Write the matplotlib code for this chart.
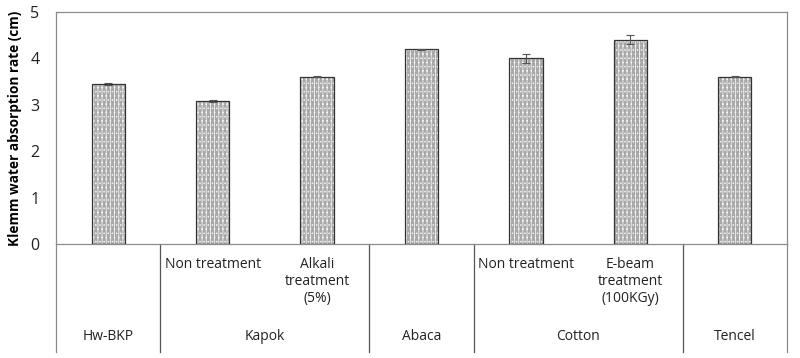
import matplotlib
matplotlib.use("Agg")
import matplotlib.pyplot as plt
import matplotlib.transforms as mtransforms

plt.rcParams['font.family'] = ['Open Sans', 'DejaVu Sans']
plt.rcParams['hatch.linewidth'] = 0.6

# Data
groups = ["Hw-BKP", "Kapok", "Abaca", "Cotton", "Tencel"]
group_sizes = [1, 2, 1, 2, 1]
sub_labels = ["", "Non treatment", "Alkali\ntreatment\n(5%)", "", "Non treatment",
              "E-beam\ntreatment\n(100KGy)", ""]
values = [3.45, 3.08, 3.60, 4.20, 4.00, 4.40, 3.60]
errors = [0.03, 0.02, 0.01, 0.01, 0.10, 0.10, 0.01]
yticks = [0, 1, 2, 3, 4, 5]

W, H = 800, 358
fig = plt.figure(figsize=(W / 100, H / 100), dpi=100)
left, right, top, bottom = 56, 787, 12, 244
ax = fig.add_axes([left / W, 1 - bottom / H, (right - left) / W, (bottom - top) / H])

n = len(values)
x = list(range(n))
# hatched bars: gray fill with light dotted hatch, then dark outline
ax.bar(x, values, width=0.32, color='#a8a8a8', edgecolor='#f2f2f2', hatch='||||....', linewidth=0, zorder=2)
ax.bar(x, values, width=0.32, fill=False, edgecolor='#333333', linewidth=0.9, zorder=3)
ax.errorbar(x, values, yerr=errors, fmt='none', ecolor='#555555', elinewidth=0.8, capsize=3, capthick=0.8, zorder=4)

ax.set_xlim(-0.5, n - 0.5)
ax.set_ylim(0, 5)
ax.set_yticks(yticks)
ax.set_xticks([])
ax.tick_params(axis='y', length=0, pad=12, labelsize=11.5, colors='#222222')
for s in ax.spines.values():
    s.set_color('#8c8c8c')
    s.set_linewidth(0.9)
ax.set_ylabel("Klemm water absorption rate (cm)", fontsize=9.8, fontweight='bold', labelpad=6)

# Multi-level category axis
trans = mtransforms.blended_transform_factory(ax.transData, ax.transAxes)
ah = bottom - top
def ypos(py):
    return -(py - bottom) / ah

line_bottom = ypos(352)
pos = 0
bounds = [-0.5]
for g, size in zip(groups, group_sizes):
    center = pos + (size - 1) / 2
    ax.text(center, ypos(337), g, transform=trans, ha='center', va='center', fontsize=10, color='#222222')
    pos += size
    bounds.append(pos - 0.5)
for b in bounds:
    ax.plot([b, b], [0, line_bottom], transform=trans, color='#555555' if b not in (-0.5, n - 0.5) else '#8c8c8c',
            linewidth=0.9, clip_on=False)
for i, lab in enumerate(sub_labels):
    if lab:
        ax.text(i, ypos(257), lab, transform=trans, ha='center', va='top', fontsize=10,
                color='#222222', linespacing=1.2)

fig.savefig("out.png", dpi=100)
